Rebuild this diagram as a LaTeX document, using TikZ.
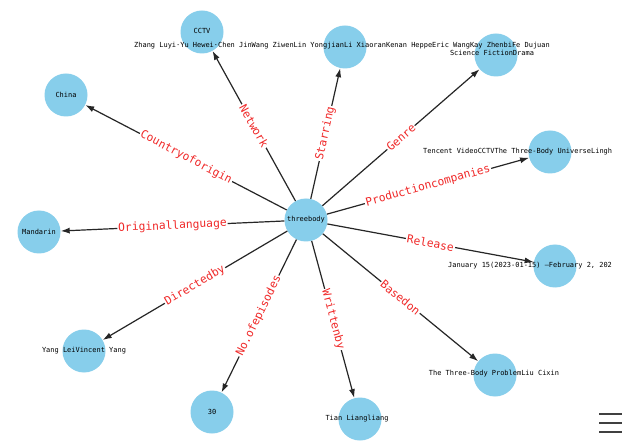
\documentclass[tikz,border=0pt]{standalone}
\usepackage{fontspec}
\setmonofont{DejaVu Sans Mono}
\usetikzlibrary{arrows.meta}
\definecolor{nodeblue}{HTML}{87CEEB}
\definecolor{labelred}{HTML}{F02828}
\begin{document}
\begin{tikzpicture}[x=1bp,y=-1bp,
  entity/.style={circle,fill=nodeblue,minimum size=43bp,inner sep=0pt},
  caption/.style={font=\fontsize{7}{8}\selectfont\ttfamily,inner sep=0pt,text=black},
  relation/.style={draw=black!85,line width=1.2bp,-{Latex[length=9bp,width=6bp]}},
  rellabel/.style={midway,sloped,fill=white,text=labelred,
    font=\fontsize{11.3}{12}\selectfont\ttfamily,inner sep=1bp},
  menubar/.style={draw=black!75,line width=1.6bp}]
\useasboundingbox (0,0) rectangle (625,445);
\fill[white] (0,0) rectangle (625,445);

% entities
\node[entity] (tb) at (306,220) {};
\node[entity] (cctv) at (202,32) {};
\node[entity] (star) at (345,47) {};
\node[entity] (genre) at (496,55) {};
\node[entity] (china) at (66,95) {};
\node[entity] (prod) at (550,152) {};
\node[entity] (rel) at (555,266) {};
\node[entity] (mand) at (39,232) {};
\node[entity] (dir) at (84,351) {};
\node[entity] (ep) at (212,412) {};
\node[entity] (wri) at (360,419) {};
\node[entity] (based) at (495,375) {};

% relations
\draw[relation] (tb) -- node[rellabel]{Countryoforigin} (china);
\draw[relation] (tb) -- node[rellabel]{Network} (cctv);
\draw[relation] (tb) -- node[rellabel]{Starring} (star);
\draw[relation] (tb) -- node[rellabel]{Genre} (genre);
\draw[relation] (tb) -- node[rellabel]{Productioncompanies} (prod);
\draw[relation] (tb) -- node[rellabel]{Release} (rel);
\draw[relation] (tb) -- node[rellabel]{Originallanguage} (mand);
\draw[relation] (tb) -- node[rellabel]{Directedby} (dir);
\draw[relation] (tb) -- node[rellabel]{No.ofepisodes} (ep);
\draw[relation] (tb) -- node[rellabel]{Writtenby} (wri);
\draw[relation] (tb) -- node[rellabel]{Basedon} (based);

% entity captions
\node[caption] (tbT) at (tb) {threebody};
\node[caption] (cctvT) at (202,31) {CCTV};
\node[caption] (starT) at (342,46) {Zhang Luyi·Yu Hewei·Chen JinWang ZiwenLin YongjianLi XiaoranKenan HeppeEric WangKay ZhenbiFe Dujuan};
\node[caption] (genreT) at (492,53) {Science FictionDrama};
\node[caption] (chinaT) at (china) {China};
\node[caption,anchor=west] (prodT) at (423,152) {Tencent VideoCCTVThe Three-Body UniverseLingh};
\node[caption,anchor=west] (relT) at (448,266) {January 15(2023-01-15) –February 2, 202};
\node[caption] (mandT) at (mand) {Mandarin};
\node[caption] (dirT) at (dir) {Yang LeiVincent Yang};
\node[caption] (epT) at (ep) {30};
\node[caption] (wriT) at (357,419) {Tian Liangliang};
\node[caption] (basedT) at (494,374) {The Three-Body ProblemLiu Cixin};

% menu icon in the lower right corner
\draw[menubar] (599,414) -- (622,414);
\draw[menubar] (599,423) -- (622,423);
\draw[menubar] (599,432) -- (622,432);
\end{tikzpicture}
\end{document}
